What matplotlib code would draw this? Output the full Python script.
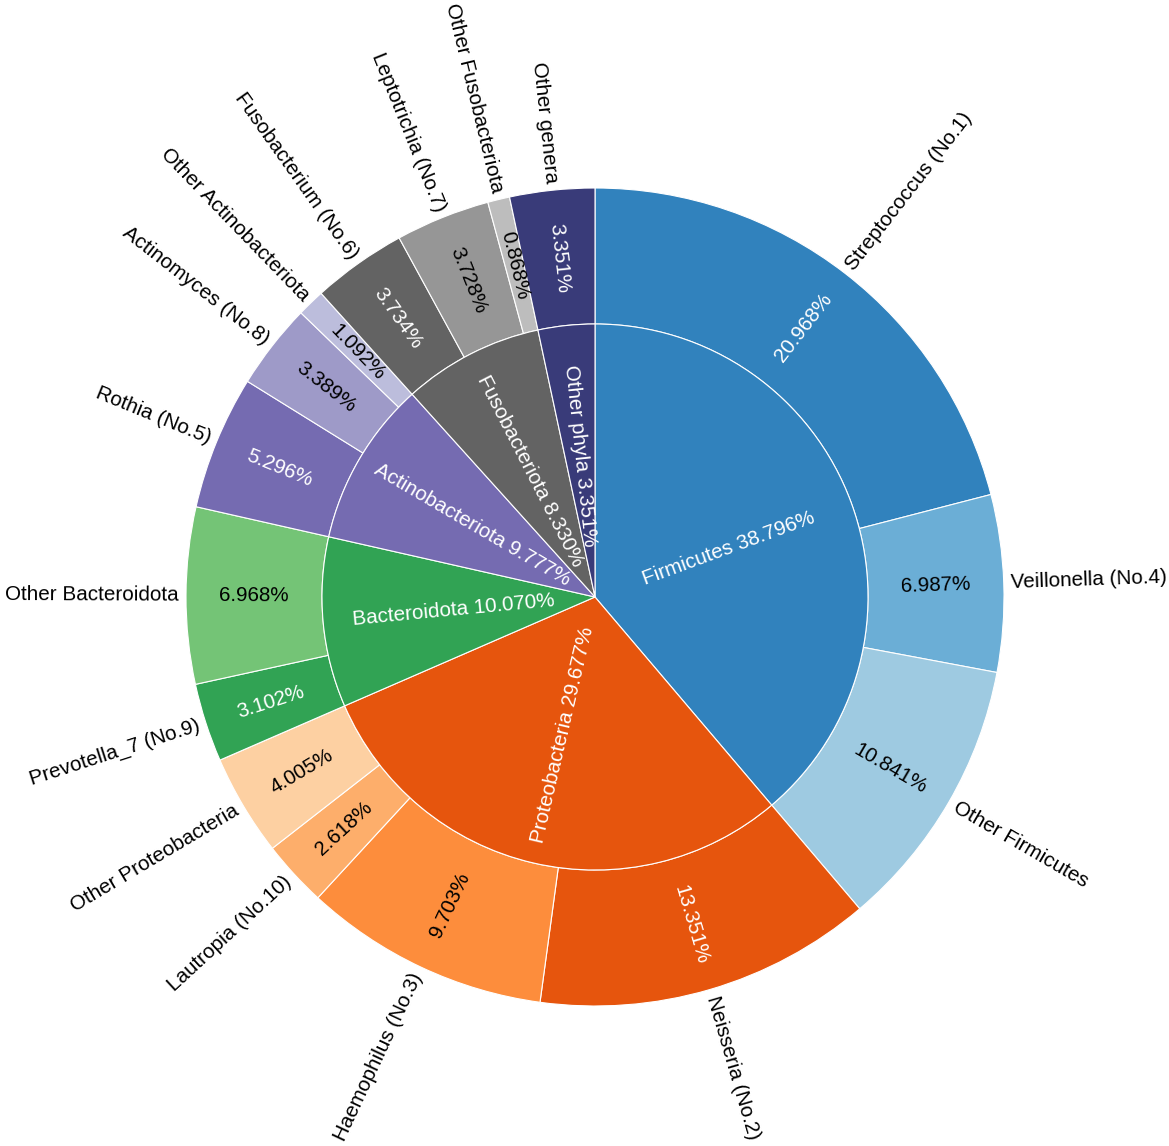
import numpy as np
import matplotlib
matplotlib.use("Agg")
import matplotlib.pyplot as plt

plt.rcParams['font.family'] = ['Liberation Sans', 'DejaVu Sans']

# inner ring: phyla (clockwise from 12 o'clock)
phyla = ["Firmicutes", "Proteobacteria", "Bacteroidota", "Actinobacteriota",
         "Fusobacteriota", "Other phyla"]
phyla_pct = [38.796, 29.677, 10.070, 9.777, 8.330, 3.351]
phyla_colors = ["#3182bd", "#e6550d", "#31a354", "#756bb1", "#636363", "#393b79"]

# outer ring: genera
genera = ["Streptococcus (No.1)", "Veillonella (No.4)", "Other Firmicutes",
          "Neisseria (No.2)", "Haemophilus (No.3)", "Lautropia (No.10)", "Other Proteobacteria",
          "Prevotella_7 (No.9)", "Other Bacteroidota",
          "Rothia (No.5)", "Actinomyces (No.8)", "Other Actinobacteriota",
          "Fusobacterium (No.6)", "Leptotrichia (No.7)", "Other Fusobacteriota",
          "Other genera"]
genera_pct = [20.968, 6.987, 10.841,
              13.351, 9.703, 2.618, 4.005,
              3.102, 6.968,
              5.296, 3.389, 1.092,
              3.734, 3.728, 0.868,
              3.351]
genera_colors = ["#3182bd", "#6baed6", "#9ecae1",
                 "#e6550d", "#fd8d3c", "#fdae6b", "#fdd0a2",
                 "#31a354", "#74c476",
                 "#756bb1", "#9e9ac8", "#bcbddc",
                 "#636363", "#969696", "#bdbdbd",
                 "#393b79"]
genera_textcol = ["white", "black", "black",
                  "white", "black", "black", "black",
                  "white", "black",
                  "white", "black", "black",
                  "white", "black", "black",
                  "white"]

W, H = 1169, 1146
cx, cy = 595, H - 597
R_OUT, R_IN = 409, 273
FS = 14.9

fig = plt.figure(figsize=(W / 100, H / 100), dpi=100)
ax = fig.add_axes([0, 0, 1, 1])

wp = dict(edgecolor="white", linewidth=0.8)
outer, _ = ax.pie(genera_pct, radius=R_OUT, center=(cx, cy), colors=genera_colors,
                  startangle=90, counterclock=False,
                  wedgeprops=dict(width=R_OUT - R_IN, **wp))
inner, _ = ax.pie(phyla_pct, radius=R_IN, center=(cx, cy), colors=phyla_colors,
                  startangle=90, counterclock=False, wedgeprops=wp)

ax.set_xlim(0, W)
ax.set_ylim(0, H)
ax.set_aspect("equal")
ax.axis("off")


def radial_text(phi, r, s, color, ha="center"):
    x = cx + r * np.cos(np.radians(phi))
    y = cy + r * np.sin(np.radians(phi))
    right = np.cos(np.radians(phi)) >= 0
    rot = phi if right else phi + 180
    if ha == "out":
        ha = "left" if right else "right"
    ax.text(x, y, s, rotation=rot, rotation_mode="anchor", ha=ha, va="center",
            color=color, fontsize=FS)


for w, name, pct in zip(inner, phyla, phyla_pct):
    phi = (w.theta1 + w.theta2) / 2
    radial_text(phi, 142, f"{name} {pct:.3f}%", "white")

for w, name, pct, tc in zip(outer, genera, genera_pct, genera_textcol):
    phi = (w.theta1 + w.theta2) / 2
    radial_text(phi, (R_OUT + R_IN) / 2, f"{pct:.3f}%", tc)
    radial_text(phi, R_OUT + 7, name, "black", ha="out")

fig.savefig("out.png", dpi=100)
